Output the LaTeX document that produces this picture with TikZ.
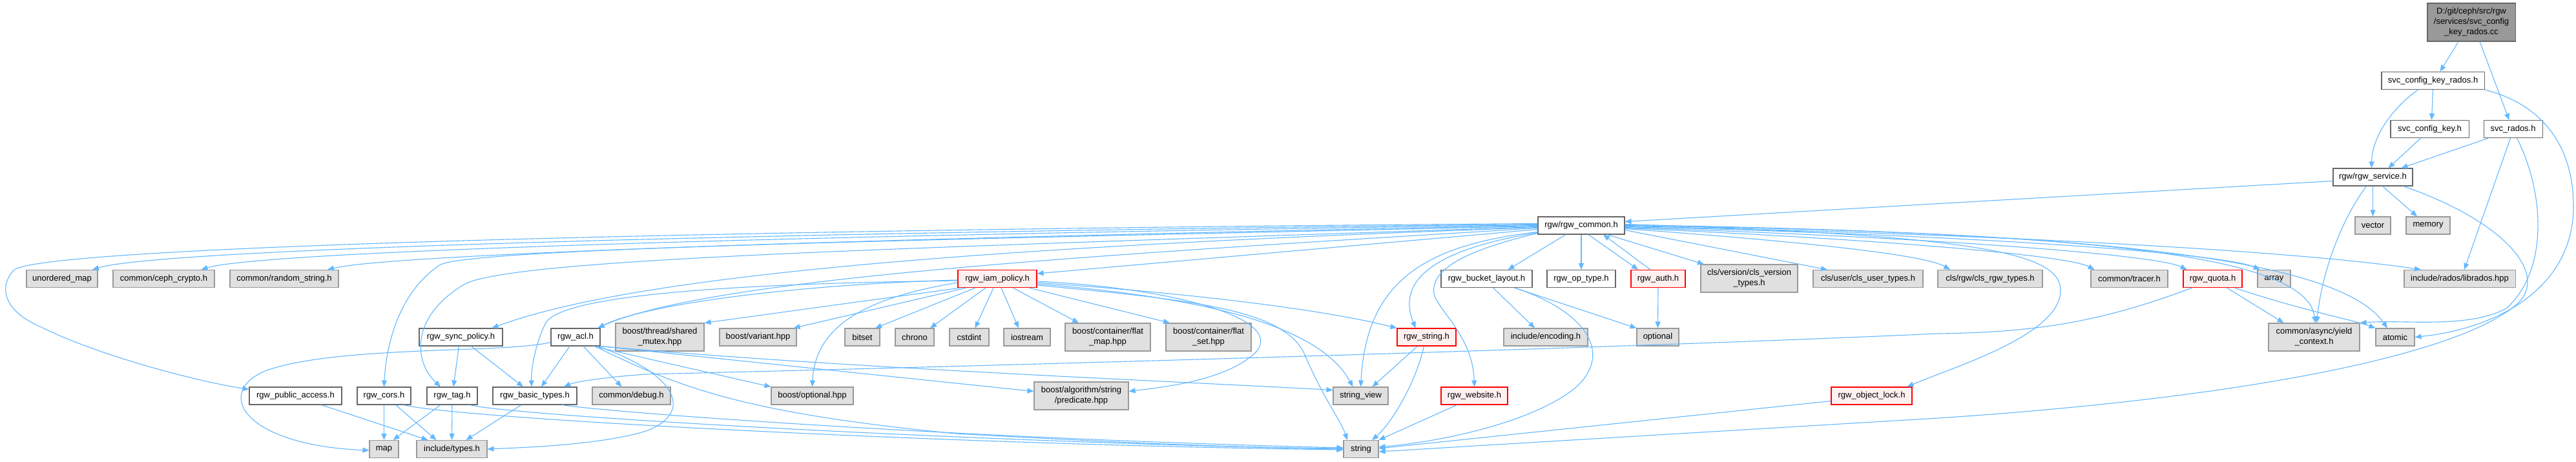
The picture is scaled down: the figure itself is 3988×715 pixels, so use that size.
\documentclass[tikz,border=0pt]{standalone}
\usepackage{fontspec}
\setmainfont{Liberation Sans}
\usetikzlibrary{arrows.meta}
\definecolor{edgec}{HTML}{63B8FF}
\definecolor{grayf}{HTML}{E0E0E0}
\definecolor{grayb}{HTML}{999999}
\definecolor{whiteb}{HTML}{666666}
\definecolor{redf}{HTML}{FFF0F0}
\definecolor{redb}{HTML}{FF0000}
\definecolor{mainf}{HTML}{999999}
\newcommand\dxfont{\fontsize{13}{16}\selectfont}
\tikzset{
  nd/.style={rectangle, inner sep=0pt, align=center, font=\dxfont, line width=1.1pt, minimum height=27pt},
  gbox/.style={nd, draw=grayb, fill=grayf},
  wbox/.style={nd, draw=whiteb, fill=white},
  rbox/.style={nd, draw=redb, fill=redf},
  mbox/.style={nd, draw=whiteb, fill=mainf},
  edge/.style={draw=edgec, line width=1.1pt, -{Triangle[length=10pt,width=8pt]}},
}
\begin{document}
\begin{tikzpicture}[x=1pt,y=-1pt]
\useasboundingbox (0,0) rectangle (3988,715);
\fill[white] (0,0) rectangle (3988,715);
% rows 0-4
\node[mbox, minimum width=136pt, minimum height=59pt] (top) at (3826,34.5) {D:/git/ceph/src/rgw\\/services/svc\_config\\\_key\_rados.cc};
\node[wbox, minimum width=159pt] (sckr) at (3766.5,125) {svc\_config\_key\_rados.h};
\node[wbox, minimum width=121pt] (sck) at (3761.5,200) {svc\_config\_key.h};
\node[wbox, minimum width=91pt] (srados) at (3890.5,200) {svc\_rados.h};
\node[wbox, minimum width=123pt] (svc) at (3673.5,274.5) {rgw/rgw\_service.h};
\node[wbox, minimum width=134pt] (common) at (2448,349.5) {rgw/rgw\_common.h};
\node[gbox, minimum width=55pt] (vector) at (3673.5,349.5) {vector};
\node[gbox, minimum width=68pt] (memory) at (3759,349.5) {memory};
% row 5
\node[gbox, minimum width=110pt] (umap) at (96,432) {unordered\_map};
\node[gbox, minimum width=157pt] (crypto) at (253.5,432) {common/ceph\_crypto.h};
\node[gbox, minimum width=168pt] (rstring) at (440,432) {common/random\_string.h};
\node[rbox, minimum width=122pt] (iam) at (1544,432) {rgw\_iam\_policy.h};
\node[wbox, minimum width=141pt] (blayout) at (2301.5,432) {rgw\_bucket\_layout.h};
\node[wbox, minimum width=106pt] (optype) at (2448,432) {rgw\_op\_type.h};
\node[rbox, minimum width=84pt] (auth) at (2567,432) {rgw\_auth.h};
\node[gbox, minimum width=150pt, minimum height=43pt] (clsver) at (2708,431.5) {cls/version/cls\_version\\\_types.h};
\node[gbox, minimum width=170pt] (clsuser) at (2892,432) {cls/user/cls\_user\_types.h};
\node[gbox, minimum width=162pt] (clsrgw) at (3081,432) {cls/rgw/cls\_rgw\_types.h};
\node[gbox, minimum width=119pt] (tracer) at (3296.5,432) {common/tracer.h};
\node[rbox, minimum width=91pt] (quota) at (3425.5,432) {rgw\_quota.h};
\node[gbox, minimum width=51pt] (array) at (3520.5,432) {array};
\node[gbox, minimum width=172pt] (librados) at (3808,432) {include/rados/librados.hpp};
% row 6
\node[wbox, minimum width=129pt] (sync) at (713.5,522.5) {rgw\_sync\_policy.h};
\node[wbox, minimum width=76pt] (acl) at (891,522.5) {rgw\_acl.h};
\node[gbox, minimum width=137pt, minimum height=43pt] (shmutex) at (1021.5,522.5) {boost/thread/shared\\\_mutex.hpp};
\node[gbox, minimum width=119pt] (variant) at (1173.5,522.5) {boost/variant.hpp};
\node[gbox, minimum width=54pt] (bitset) at (1335,522.5) {bitset};
\node[gbox, minimum width=60pt] (chrono) at (1416,522.5) {chrono};
\node[gbox, minimum width=61pt] (cstdint) at (1500.5,522.5) {cstdint};
\node[gbox, minimum width=72pt] (iostream) at (1590,522.5) {iostream};
\node[gbox, minimum width=132pt, minimum height=43pt] (flatmap) at (1715,522.5) {boost/container/flat\\\_map.hpp};
\node[gbox, minimum width=132pt, minimum height=43pt] (flatset) at (1871,522.5) {boost/container/flat\\\_set.hpp};
\node[rbox, minimum width=91pt] (rstr) at (2208.5,522.5) {rgw\_string.h};
\node[gbox, minimum width=130pt] (encoding) at (2393,522.5) {include/encoding.h};
\node[gbox, minimum width=65pt] (optional) at (2566.5,522.5) {optional};
\node[gbox, minimum width=141pt, minimum height=43pt] (yield) at (3582.5,522.5) {common/async/yield\\\_context.h};
\node[gbox, minimum width=60pt] (atomic) at (3708,522.5) {atomic};
% row 7
\node[wbox, minimum width=143pt] (pubacc) at (457.5,613.5) {rgw\_public\_access.h};
\node[wbox, minimum width=83pt] (cors) at (594.5,613.5) {rgw\_cors.h};
\node[wbox, minimum width=78pt] (tag) at (700,613.5) {rgw\_tag.h};
\node[wbox, minimum width=130pt] (btypes) at (828,613.5) {rgw\_basic\_types.h};
\node[gbox, minimum width=121pt] (debug) at (977.5,613.5) {common/debug.h};
\node[gbox, minimum width=127pt] (boptional) at (1257.5,613.5) {boost/optional.hpp};
\node[gbox, minimum width=146pt, minimum height=43pt] (predicate) at (1674,613.5) {boost/algorithm/string\\/predicate.hpp};
\node[gbox, minimum width=85pt] (strview) at (2106.5,613.5) {string\_view};
\node[rbox, minimum width=103pt] (website) at (2282.5,613.5) {rgw\_website.h};
\node[rbox, minimum width=125pt] (objlock) at (2897.5,613.5) {rgw\_object\_lock.h};
% row 8
\node[gbox, minimum width=45pt] (map) at (594.5,696) {map};
\node[gbox, minimum width=109pt] (types) at (699.5,696) {include/types.h};
\node[gbox, minimum width=54pt] (string) at (2107,696) {string};

% ---- edges ----
\draw[edge] ([xshift=-20pt]top.south) -- ([xshift=11pt]sckr.north);
\draw[edge] ([xshift=13pt]top.south) -- ([xshift=-6pt]srados.north);
\draw[edge] (sckr.south) -- ([xshift=3pt]sck.north);
\draw[edge] ([xshift=-23pt]sckr.south) .. controls (3700,170) and (3672,215) .. ([xshift=-2pt]svc.north);
\draw[edge] (sckr.south east) .. controls (3930,160) and (3984,220) .. (3984,320) .. controls (3984,450) and (3860,510) .. (atomic.east);
\draw[edge] ([xshift=-14pt]sck.south) -- ([xshift=24pt]svc.north);
\draw[edge] ([xshift=-38pt]srados.south) -- ([xshift=44pt]svc.north);
\draw[edge] ([xshift=-4pt]srados.south) -- ([xshift=7pt]librados.north);
\draw[edge] ([xshift=6pt]srados.south) .. controls (3940,300) and (3945,420) .. (3880,478) .. controls (3820,510) and (3720,495) .. (yield.north east);
% svc
\draw[edge] ([yshift=-6pt]svc.west) -- ([yshift=6pt]common.east);
\draw[edge] (svc.south) -- (vector.north);
\draw[edge] ([xshift=15pt]svc.south) -- ([xshift=-17pt]memory.north);
\draw[edge] ([xshift=-10pt]svc.south) .. controls (3625,340) and (3595,420) .. ([xshift=4pt]yield.north);
\draw[edge] ([xshift=47pt]svc.south) .. controls (3870,340) and (3945,420) .. (3900,468) .. controls (3820,545) and (3500,615) .. (3000,648) .. controls (2600,672) and (2300,690) .. ([yshift=-4pt]string.east);
% common -> left
\draw[edge] ([yshift=3pt]common.west) .. controls (1200,355) and (80,380) .. (22,418) .. controls (0,440) and (0,480) .. (64,507) .. controls (150,550) and (300,590) .. ([yshift=10pt]pubacc.west);
\draw[edge] ([yshift=2pt]common.west) .. controls (1200,360) and (250,385) .. ([xshift=47pt]umap.north);
\draw[edge] ([yshift=1pt]common.west) .. controls (1200,365) and (400,390) .. ([xshift=58pt]crypto.north);
\draw[edge] (common.west) .. controls (1300,370) and (600,395) .. ([xshift=67pt]rstring.north);
\draw[edge] ([yshift=-1pt]common.west) .. controls (1400,372) and (740,385) .. (682,410) .. controls (620,450) and (598,530) .. (cors.north);
\draw[edge] ([yshift=-2pt]common.west) .. controls (1400,385) and (800,400) .. (720,440) .. controls (635,490) and (640,560) .. ([xshift=-18pt]tag.north);
\draw[edge] ([yshift=-3pt]common.west) .. controls (1600,380) and (1000,420) .. ([xshift=48pt]sync.north);
\draw[edge] ([yshift=-4pt]common.west) .. controls (1700,395) and (1100,430) .. ([xshift=34pt]acl.north);
\draw[edge] ([yshift=-6pt]common.west) -- ([yshift=8pt]iam.east);
\draw[edge] ([yshift=-10pt]common.west) .. controls (2200,380) and (2115,440) .. (strview.north);
\draw[edge] ([yshift=-11pt]common.west) .. controls (2230,385) and (2160,430) .. ([xshift=-17pt]rstr.north);
\draw[edge] ([yshift=-12pt]common.west) .. controls (2260,390) and (2215,420) .. (2220,455) .. controls (2225,480) and (2280,520) .. (website.north);
% common -> right
\draw[edge] ([xshift=-24pt]common.south) -- ([xshift=33pt]blayout.north);
\draw[edge] (common.south) -- (optype.north);
\draw[edge] ([xshift=11pt]common.south) -- ([xshift=-31pt]auth.north);
\draw[edge] ([xshift=-12pt]auth.north) -- ([xshift=34pt]common.south);
\draw[edge] ([xshift=40pt]common.south) -- ([xshift=-70pt]clsver.north);
\draw[edge] ([yshift=-7pt]common.east) -- ([xshift=-63pt]clsuser.north);
\draw[edge] ([yshift=-5pt]common.east) .. controls (2800,375) and (2980,395) .. ([xshift=-62pt]clsrgw.north);
\draw[edge] ([yshift=-4pt]common.east) .. controls (2900,370) and (3200,395) .. ([xshift=-54pt]tracer.north);
\draw[edge] ([yshift=-3pt]common.east) .. controls (3000,368) and (3340,395) .. ([xshift=-40pt]quota.north);
\draw[edge] ([yshift=-2pt]common.east) .. controls (3100,365) and (3450,395) .. ([xshift=-22pt]array.north);
\draw[edge] ([yshift=-1pt]common.east) .. controls (3200,365) and (3600,395) .. ([xshift=-60pt]librados.north);
\draw[edge] (common.east) .. controls (3200,360) and (3570,390) .. ([xshift=2pt]yield.north);
\draw[edge] ([yshift=1pt]common.east) .. controls (3250,360) and (3620,400) .. ([xshift=-12pt]atomic.north);
\draw[edge] ([yshift=2pt]common.east) .. controls (3050,365) and (3190,390) .. (3190,450) .. controls (3190,520) and (3020,570) .. ([xshift=55pt]objlock.north);
% iam
\draw[edge] ([yshift=-2pt]iam.west) .. controls (1250,440) and (1000,470) .. ([xshift=35pt]acl.north);
\draw[edge] ([xshift=-57pt]iam.south) -- (shmutex.north east);
\draw[edge] ([xshift=-48pt]iam.south) -- ([xshift=55pt]variant.north);
\draw[edge] ([xshift=-34pt]iam.south) -- ([xshift=20pt]bitset.north);
\draw[edge] ([xshift=-18pt]iam.south) -- ([xshift=24pt]chrono.north);
\draw[edge] ([xshift=-6pt]iam.south) -- ([xshift=9pt]cstdint.north);
\draw[edge] ([xshift=6pt]iam.south) -- ([xshift=-13pt]iostream.north);
\draw[edge] ([xshift=24pt]iam.south) -- ([xshift=-45pt]flatmap.north);
\draw[edge] ([xshift=49pt]iam.south) -- ([xshift=-60pt]flatset.north);
\draw[edge] ([yshift=-6pt]iam.west) .. controls (1350,460) and (1262,500) .. (boptional.north);
\draw[edge] ([yshift=-3pt]iam.west) .. controls (1100,440) and (870,460) .. (845,500) .. controls (830,530) and (822,570) .. ([xshift=-5pt]btypes.north);
\draw[edge] ([yshift=-4pt]iam.east) .. controls (1800,445) and (1990,490) .. (1945,545) .. controls (1900,590) and (1800,600) .. ([yshift=7pt]predicate.east);
\draw[edge] ([yshift=-6pt]iam.east) .. controls (1850,455) and (2050,480) .. (rstr.north west);
\draw[edge] ([yshift=-8pt]iam.east) .. controls (1850,460) and (2040,500) .. ([xshift=-12pt]strview.north);
\draw[edge] ([yshift=-10pt]iam.east) .. controls (1850,465) and (1990,480) .. (2020,550) .. controls (2050,620) and (2075,650) .. ([xshift=-21pt]string.north);
% acl
\draw[edge] ([yshift=-8pt]acl.west) .. controls (780,548) and (520,535) .. (410,575) .. controls (330,610) and (380,690) .. ([yshift=-2pt]map.west);
\draw[edge] ([xshift=-9pt]acl.south) -- ([xshift=10pt]btypes.north);
\draw[edge] ([xshift=12pt]acl.south) -- ([xshift=-15pt]debug.north);
\draw[edge] ([xshift=27pt]acl.south) -- (boptional.north west);
\draw[edge] (acl.south east) -- ([yshift=7pt]predicate.west);
\draw[edge] (acl.south east) .. controls (1300,570) and (1800,590) .. ([yshift=9pt]strview.west);
\draw[edge] ([xshift=30pt]acl.south) .. controls (1050,600) and (1150,640) .. (1480,672) .. controls (1800,690) and (1950,694) .. ([yshift=1pt]string.west);
\draw[edge] ([xshift=34pt]acl.south) .. controls (1050,580) and (1075,640) .. (1000,668) .. controls (930,690) and (800,694) .. (types.east);
% lower left
\draw[edge] ([xshift=-3pt]sync.south) -- ([xshift=2pt]tag.north);
\draw[edge] ([xshift=16pt]sync.south) -- ([xshift=-18pt]btypes.north);
\draw[edge] ([xshift=40pt]pubacc.south) -- ([xshift=-37pt]types.north);
\draw[edge] (cors.south) -- (map.north);
\draw[edge] ([xshift=18pt]cors.south) -- ([xshift=-24pt]types.north);
\draw[edge] ([xshift=30pt]cors.south) .. controls (720,650) and (1500,690) .. ([yshift=-1pt]string.west);
\draw[edge] ([xshift=-18pt]tag.south) -- ([xshift=14pt]map.north);
\draw[edge] (tag.south) -- (types.north);
\draw[edge] ([xshift=27pt]tag.south) .. controls (800,645) and (1500,685) .. (string.west);
\draw[edge] ([xshift=-21pt]btypes.south) -- ([xshift=22pt]types.north);
\draw[edge] ([xshift=42pt]btypes.south) .. controls (950,640) and (1500,680) .. ([yshift=2pt]string.west);
% middle right
\draw[edge] ([xshift=-14pt]rstr.south) -- ([xshift=18pt]strview.north);
\draw[edge] ([xshift=-4pt]rstr.south) .. controls (2190,600) and (2150,660) .. ([xshift=17pt]string.north);
\draw[edge] ([xshift=-27pt]website.south) -- (string.north east);
\draw[edge] ([yshift=-8pt]objlock.west) -- ([yshift=1pt]string.east);
\draw[edge] ([xshift=10pt]blayout.south) -- ([xshift=-17pt]encoding.north);
\draw[edge] ([xshift=43pt]blayout.south) -- (optional.north west);
\draw[edge] ([xshift=43pt]blayout.south) .. controls (2450,480) and (2500,545) .. (2440,600) .. controls (2380,650) and (2250,682) .. ([yshift=3pt]string.east);
\draw[edge] (auth.south) -- (optional.north);
% quota
\draw[edge] ([xshift=-32pt]quota.south) .. controls (3250,500) and (3150,515) .. (3000,517) .. controls (2500,540) and (1500,568) .. (1000,580) .. controls (930,585) and (890,592) .. ([xshift=45pt]btypes.north);
\draw[edge] ([xshift=22pt]quota.south) -- ([xshift=-47pt]yield.north);
\draw[edge] ([xshift=34pt]quota.south) .. controls (3560,480) and (3640,495) .. (atomic.north west);
\end{tikzpicture}
\end{document}
